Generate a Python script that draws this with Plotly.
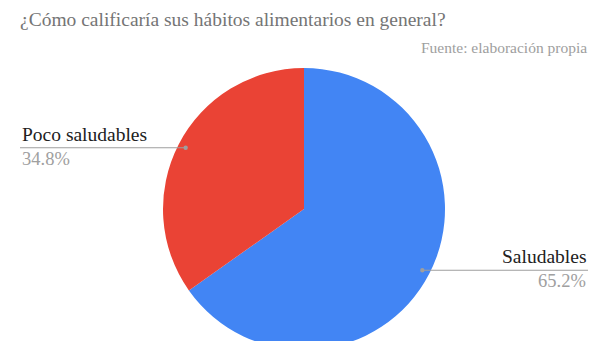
import math
import plotly.graph_objects as go

categories = ["Saludables", "Poco saludables"]
values = [65.2, 34.8]
colors = ["#4285F4", "#EA4335"]
title_text = "¿Cómo calificaría sus hábitos alimentarios en general?"
subtitle_text = "Fuente: elaboración propia"

W, H = 604, 362
cx, cy, R = 304, 209, 141  # pixel layout of the pie (from top-left)


def px(x):
    return x / W


def py(y):
    return 1 - y / H


fig = go.Figure(go.Pie(
    labels=categories, values=values, sort=False, direction="clockwise",
    rotation=0, textinfo="none", hoverinfo="label+percent",
    marker=dict(colors=colors, line=dict(width=0)),
    domain=dict(x=[px(cx - R), px(cx + R)], y=[py(cy + R), py(cy - R)]),
    showlegend=False,
))

FONT = "Liberation Serif"
annotations = [
    dict(text=title_text, x=px(18), y=py(7), xanchor="left", yanchor="top",
         font=dict(family=FONT, size=19.5, color="#757575")),
    dict(text=subtitle_text, x=px(589), y=py(37), xanchor="right", yanchor="top",
         font=dict(family=FONT, size=15.5, color="#9e9e9e")),
]
shapes = []

total = sum(values)
start = 0.0
for cat, v in zip(categories, values):
    mid = start + v / total / 2
    start += v / total
    ang = mid * 2 * math.pi  # clockwise from top
    r = R * 0.945
    dx, dy = cx + r * math.sin(ang), cy - r * math.cos(ang)
    pct = f"{v / total * 100:.1f}%"
    if dx < cx:
        end = 20
        anchor = "left"
    else:
        end = 588
        anchor = "right"
    shapes.append(dict(type="line", xref="paper", yref="paper",
                       x0=px(dx), x1=px(end), y0=py(dy), y1=py(dy),
                       line=dict(color="#9e9e9e", width=1.2)))
    shapes.append(dict(type="circle", xref="paper", yref="paper",
                       x0=px(dx - 2.2), x1=px(dx + 2.2), y0=py(dy - 2.2), y1=py(dy + 2.2),
                       fillcolor="#9e9e9e", line=dict(width=0)))
    annotations.append(dict(text=cat, x=px(end), y=py(dy - 1), xanchor=anchor, yanchor="bottom",
                            font=dict(family=FONT, size=19.5, color="#212121")))
    annotations.append(dict(text=pct, x=px(end), y=py(dy - 1), xanchor=anchor, yanchor="top",
                            font=dict(family=FONT, size=18.5, color="#a0a0a0")))

for a in annotations:
    a.update(xref="paper", yref="paper", showarrow=False)

fig.update_layout(
    width=W, height=H, margin=dict(l=0, r=0, t=0, b=0),
    paper_bgcolor="white", plot_bgcolor="white",
    annotations=annotations, shapes=shapes,
)

fig.write_html("out.html", config={"displayModeBar": False},
               post_script="document.documentElement.style.overflow='hidden';document.body.style.overflow='hidden';document.body.style.margin='0';")
